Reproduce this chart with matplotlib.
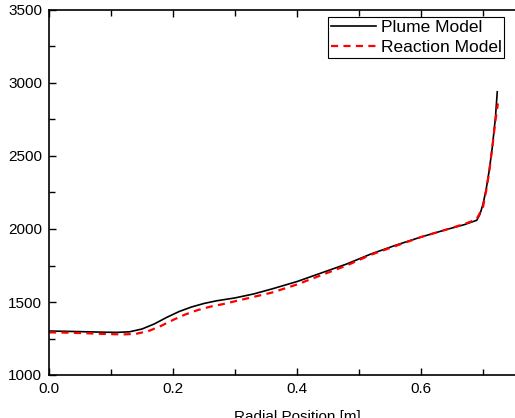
import matplotlib
matplotlib.use("Agg")
import matplotlib.pyplot as plt
from matplotlib.ticker import MultipleLocator

plt.rcParams['font.family'] = ['Liberation Sans', 'DejaVu Sans']

# Radial temperature profiles
plume_r = [0.00, 0.03, 0.06, 0.09, 0.11, 0.13, 0.15, 0.17, 0.19, 0.21, 0.23,
           0.25, 0.27, 0.30, 0.33, 0.36, 0.40, 0.44, 0.48, 0.52, 0.56, 0.60,
           0.64, 0.67, 0.68, 0.69, 0.695, 0.70, 0.705, 0.71, 0.715, 0.72, 0.723]
plume_t = [1301, 1299, 1296, 1293, 1292, 1296, 1315, 1350, 1395, 1435, 1466,
           1490, 1508, 1528, 1555, 1590, 1640, 1700, 1760, 1830, 1890, 1945,
           1995, 2030, 2045, 2060, 2100, 2170, 2270, 2400, 2560, 2760, 2940]

reaction_r = [0.00, 0.03, 0.06, 0.09, 0.12, 0.14, 0.16, 0.18, 0.20, 0.22, 0.24,
              0.26, 0.28, 0.30, 0.33, 0.36, 0.40, 0.44, 0.48, 0.52, 0.56, 0.60,
              0.64, 0.67, 0.68, 0.69, 0.70, 0.705, 0.71, 0.715, 0.72, 0.724]
reaction_t = [1292, 1290, 1286, 1281, 1278, 1282, 1300, 1335, 1377, 1415, 1445,
              1468, 1485, 1505, 1535, 1565, 1620, 1685, 1750, 1825, 1885, 1945,
              1995, 2035, 2050, 2070, 2150, 2260, 2390, 2560, 2740, 2860]

x_ticks = [0.0, 0.2, 0.4, 0.6]
y_ticks = [1000, 1500, 2000, 2500, 3000, 3500]

fig = plt.figure(figsize=(5.15, 4.18), dpi=100)
ax = fig.add_axes([49 / 515, 43 / 418, 496 / 515, 365 / 418])

ax.plot(plume_r, plume_t, color='black', lw=1.2, label='Plume Model')
ax.plot(reaction_r, reaction_t, color='red', lw=1.6, dashes=(3.2, 2.4),
        label='Reaction Model')

ax.set_xlim(0.0, 0.8)
ax.set_ylim(1000, 3500)
ax.set_xticks(x_ticks)
ax.set_xticklabels([f"{v:.1f}" for v in x_ticks])
ax.set_yticks(y_ticks)
ax.xaxis.set_minor_locator(MultipleLocator(0.1))
ax.yaxis.set_minor_locator(MultipleLocator(250))

ax.tick_params(which='both', direction='in', top=True, right=True,
               labelsize=11, width=1.0, pad=5)
ax.tick_params(which='major', length=5)
ax.tick_params(which='minor', length=4)
for s in ax.spines.values():
    s.set_linewidth(1.2)

ax.set_xlabel('Radial Position [m]', fontsize=11, labelpad=10)

leg = ax.legend(loc='upper left', bbox_to_anchor=(328 / 515, 1 - 17 / 418),
                bbox_transform=fig.transFigure, borderaxespad=0,
                fontsize=12.5, frameon=True, fancybox=False, framealpha=1,
                edgecolor='black', handlelength=2.6, handletextpad=0.3,
                borderpad=0.15, labelspacing=0.3)
leg.get_frame().set_linewidth(0.8)

fig.savefig('out.png', dpi=100)
